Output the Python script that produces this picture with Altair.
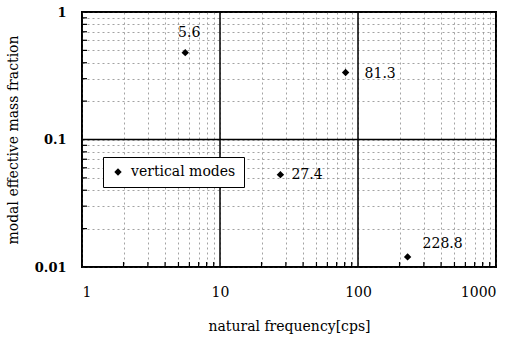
import altair as alt
import pandas as pd

# data
freq = [5.6, 81.3, 27.4, 228.8]
mass = [0.48, 0.335, 0.053, 0.012]
labels = ["5.6", "81.3", "27.4", "228.8"]
series = "vertical modes"

x_major = [1, 10, 100, 1000]
x_minor = [2, 3, 4, 5, 6, 7, 8, 9, 20, 30, 40, 50, 60, 70, 80, 90,
           200, 300, 400, 500, 600, 700, 800, 900]
y_major = [0.01, 0.1, 1]
y_minor = [0.02, 0.03, 0.04, 0.05, 0.06, 0.07, 0.08, 0.09,
           0.2, 0.3, 0.4, 0.5, 0.6, 0.7, 0.8, 0.9]

df = pd.DataFrame({"freq": freq, "mass": mass, "label": labels, "series": [series] * len(freq)})
xmaj = pd.DataFrame({"v": x_major})
xmin = pd.DataFrame({"v": x_minor})
ymaj = pd.DataFrame({"v": y_major})
ymin = pd.DataFrame({"v": y_minor})

W, H = 414, 255
FONT = "DejaVu Serif"

xscale = alt.Scale(type="log", domain=[1, 1000], nice=False)
yscale = alt.Scale(type="log", domain=[0.01, 1], nice=False)

x_axis = alt.Axis(
    values=x_major + x_minor, format="~g",
    labelExpr="indexof([1,10,100,1000], datum.value) >= 0 ? datum.label : ''",
    labelOverlap=False, labelPadding=18, labelFontSize=14,
    title="natural frequency[cps]", titlePadding=20,
)
y_axis = alt.Axis(
    values=y_major + y_minor, format="~g",
    labelExpr="indexof([0.01,0.1,1], datum.value) >= 0 ? datum.label : ''",
    labelOverlap=False, labelFontWeight="bold", labelPadding=16, labelFontSize=13,
    title="modal effective mass fraction", titlePadding=14,
)

points = alt.Chart(df).mark_point(filled=True, color="black", opacity=1, size=55).encode(
    x=alt.X("freq:Q", scale=xscale, axis=x_axis),
    y=alt.Y("mass:Q", scale=yscale, axis=y_axis),
    shape=alt.Shape("series:N", scale=alt.Scale(domain=[series], range=["diamond"]),
                    legend=alt.Legend(orient="none", legendX=21, legendY=145, title=None,
                                      fillColor="white", strokeColor="black", padding=8,
                                      symbolSize=55, symbolFillColor="black",
                                      symbolStrokeColor="black", labelOffset=6)),
)

xs = alt.X("v:Q", scale=xscale, axis=x_axis)
ys = alt.Y("v:Q", scale=yscale, axis=y_axis)

major_x = alt.Chart(xmaj).mark_rule(color="black", strokeWidth=1.5).encode(x=xs)
major_y = alt.Chart(ymaj).mark_rule(color="black", strokeWidth=1.5).encode(y=ys)
tick_x = alt.Chart(xmin).mark_rule(color="black", strokeWidth=1.2).encode(
    x=xs, y=alt.value(H), y2=alt.value(H - 5))
tick_y = alt.Chart(ymin).mark_rule(color="black", strokeWidth=1.2).encode(
    y=ys, x=alt.value(0), x2=alt.value(5))

def lab(text, align, dx, dy):
    return alt.Chart(df).transform_filter(alt.datum.label == text).mark_text(
        font=FONT, fontSize=14, color="black", align=align, baseline="middle", dx=dx, dy=dy
    ).encode(
        x=alt.X("freq:Q", scale=xscale, axis=x_axis),
        y=alt.Y("mass:Q", scale=yscale, axis=y_axis),
        text="label:N",
    )

texts = [
    lab("5.6", "center", 4, -20),
    lab("81.3", "left", 19, 1),
    lab("27.4", "left", 11, 0),
    lab("228.8", "left", 15, -13),
]

chart = alt.layer(points, major_x, major_y, tick_x, tick_y, *texts).properties(
    width=W, height=H, background="white",
    autosize=alt.AutoSizeParams(type="none"),
    padding={"left": 82, "top": 12, "right": 23, "bottom": 76},
).configure_view(
    stroke="black", strokeWidth=2
).configure_axis(
    labelFont=FONT, labelColor="black",
    titleFont=FONT, titleFontSize=14, titleFontWeight="normal", titleColor="black",
    ticks=False, domain=False,
    grid=True, gridDash=[2, 3], gridColor="#8c8c8c", gridWidth=0.8,
).configure_legend(
    labelFont=FONT, labelFontSize=14, labelColor="black",
)

chart.save("out.html", embed_options={"renderer": "svg", "actions": False})
